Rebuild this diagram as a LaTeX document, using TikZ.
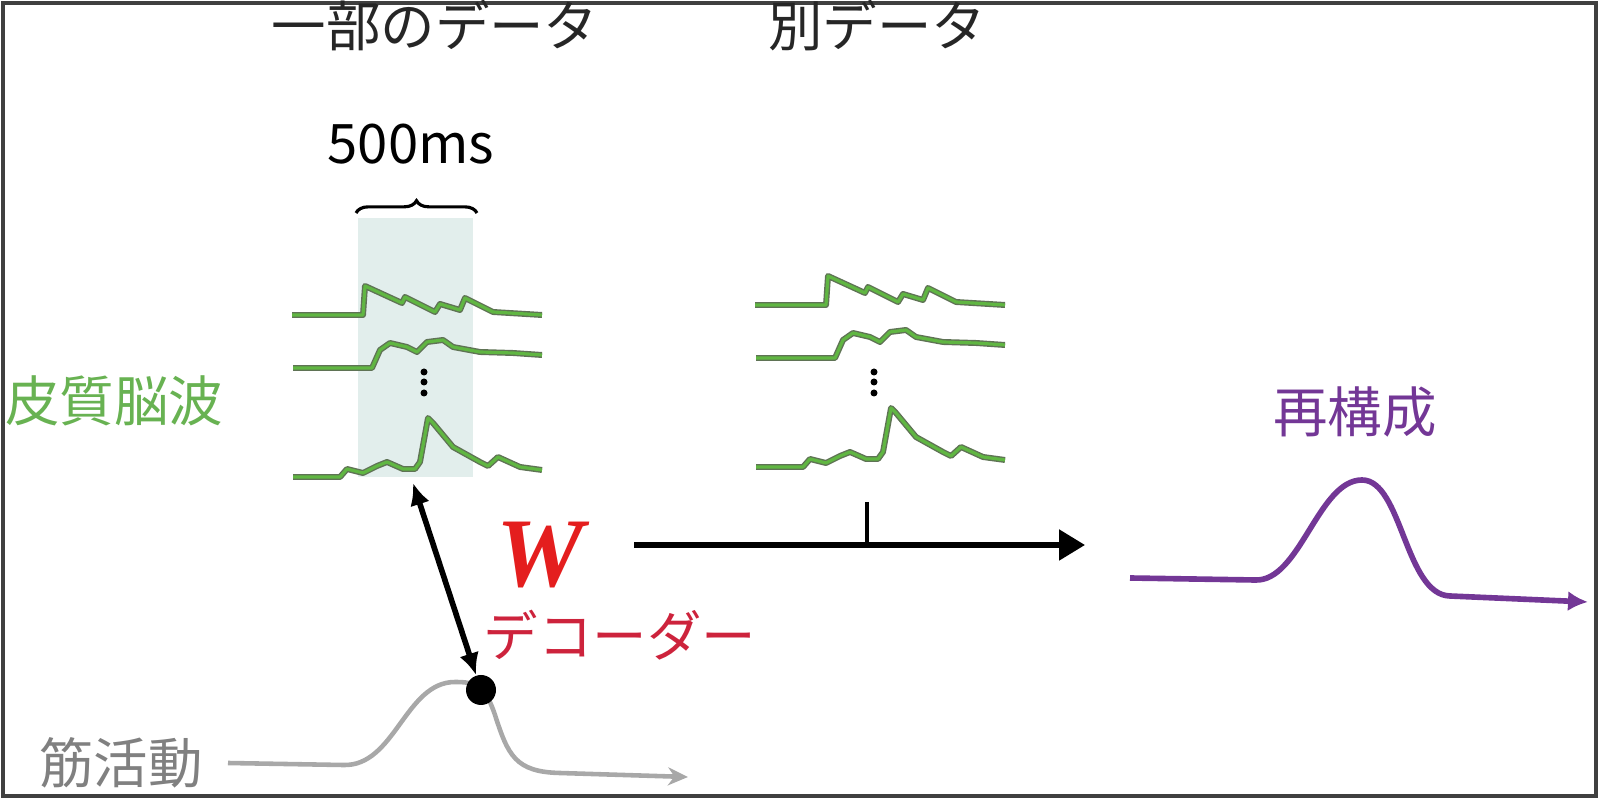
\documentclass[tikz,border=0pt]{standalone}
\usepackage{fontspec}
\setmainfont{Noto Sans CJK JP}
\newfontfamily\wfont{Liberation Serif}
\usetikzlibrary{arrows.meta,decorations.pathreplacing}
\definecolor{ecog}{RGB}{104,178,82}
\definecolor{ecogline}{RGB}{96,182,66}
\definecolor{ecogedge}{RGB}{95,115,85}
\definecolor{boxshade}{RGB}{226,238,236}
\definecolor{decred}{RGB}{205,35,60}
\definecolor{wred}{RGB}{228,30,30}
\definecolor{recon}{RGB}{115,55,150}
\definecolor{emg}{RGB}{168,168,168}
\tikzset{
    trace/.style={draw=ecogedge, double=ecogline, double distance=0.9pt, line width=0.4pt, line join=round},
    txt/.style={inner sep=0pt, font=\fontsize{15.5}{15.5}\selectfont},
}
\begin{document}
\begin{tikzpicture}
            \useasboundingbox (0,0) rectangle (16,8);
            \draw[line width=1.2pt, black!75] (0.03,0.04) rectangle (15.96,7.97);
            \fill[boxshade] (3.58,3.23) rectangle (4.73,5.82);
            \draw[line width=0.9pt, decorate, decoration={brace, amplitude=3.5pt}] (3.56,5.87) -- (4.77,5.87);
            \foreach \dx/\dy in {0/0, 4.63/0.10} {
                \begin{scope}[xshift=\dx cm, yshift=\dy cm]
                    \draw[trace] (2.92,4.85) -- (3.63,4.85) -- (3.65,5.14) -- (4.02,4.97) -- (4.05,5.03) -- (4.35,4.88) -- (4.40,4.96) -- (4.60,4.90) -- (4.65,5.02) -- (4.93,4.88) -- (5.42,4.85);
                    \draw[trace] (2.93,4.32) -- (3.72,4.32) -- (3.80,4.50) -- (3.90,4.57) -- (4.07,4.53) -- (4.17,4.48) -- (4.27,4.58) -- (4.43,4.60) -- (4.53,4.53) -- (4.80,4.48) -- (5.13,4.47) -- (5.42,4.45);
                    \draw[trace] (2.93,3.23) -- (3.40,3.23) -- (3.47,3.31) -- (3.63,3.27) -- (3.77,3.34) -- (3.87,3.38) -- (4.03,3.31) -- (4.15,3.31) -- (4.20,3.38) -- (4.28,3.82) -- (4.33,3.77) -- (4.53,3.53) -- (4.80,3.38) -- (4.88,3.34) -- (4.98,3.43) -- (5.20,3.33) -- (5.42,3.30);
                \end{scope}
            }
            \foreach \x in {4.24,8.74} {
                \foreach \y in {4.07,4.18,4.28}
                    \fill (\x,\y) circle (0.035);
            }
            \node[txt, text=black!85] (part) at (4.35,7.74) {一部のデータ};
            \node[txt, text=black!85] (other) at (8.77,7.74) {別データ};
            \node[txt] (ms) at (4.11,6.56) {500ms};
            \node[txt, text=ecog] (ecogtxt) at (1.14,3.99) {皮質脳波};
            \node[txt, text=black!50] (emgtxt) at (1.21,0.37) {筋活動};
            \node[inner sep=0pt, text=wred, font=\wfont\bfseries\itshape\fontsize{28}{28}\selectfont] (W) at (5.40,2.45) {W};
            \node[txt, text=decred] (dec) at (6.20,1.65) {デコーダー};
            \node[txt, text=recon] (rec) at (13.55,3.88) {再構成};
            \draw[emg, line width=1.3pt, -{Stealth[length=0.2cm,width=0.18cm]}] (2.28,0.37) -- (3.43,0.35) .. controls (3.95,0.33) and (4.05,1.18) .. (4.55,1.18) .. controls (4.75,1.18) and (4.85,1.15) .. (4.95,0.85) .. controls (5.08,0.45) and (5.15,0.28) .. (5.60,0.27) -- (6.88,0.23);
            \node[circle, fill=black, inner sep=0pt, minimum size=0.3cm] (peak) at (4.81,1.10) {};
            \coordinate (ecogbot) at (4.13,3.17);
            \draw[line width=1.6pt, {Latex[length=0.22cm,width=0.2cm]}-{Latex[length=0.22cm,width=0.2cm]}] (ecogbot) -- (peak);
            \coordinate (wstart) at (6.34,2.55);
            \coordinate (wend) at (10.85,2.55);
            \coordinate (tick) at (8.67,2.98);
            \draw[line width=1.5pt, -{Triangle[length=0.26cm,width=0.3cm]}] (wstart) -- (wend);
            \draw[line width=1.1pt] (tick) -- (tick |- wstart);
            \draw[recon, line width=1.6pt, -{Latex[length=0.2cm,width=0.2cm]}] (11.30,2.22) -- (12.55,2.20) .. controls (13.00,2.18) and (13.18,3.20) .. (13.62,3.20) .. controls (14.02,3.20) and (14.05,2.05) .. (14.50,2.04) -- (15.88,1.98);
        \end{tikzpicture}
\end{document}
